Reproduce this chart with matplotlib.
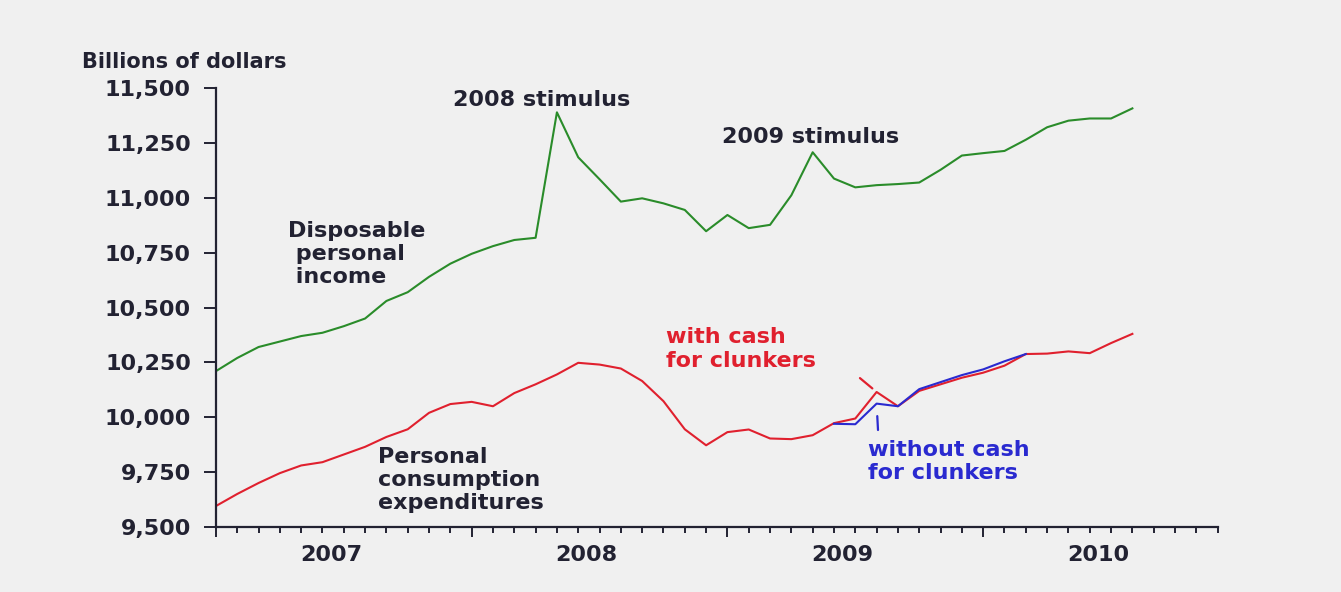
#!/usr/bin/env python3
import matplotlib

matplotlib.use("Agg")
import matplotlib.pyplot as plt
import numpy as np
from matplotlib.ticker import FuncFormatter, MultipleLocator

# Monthly data, Jan 2007 .. Aug 2010 (billions of dollars)
YEARS = ["2007", "2008", "2009", "2010"]

DISPOSABLE_INCOME = [
    10210, 10270, 10320, 10345, 10370, 10385, 10415, 10450, 10530, 10570, 10640, 10700,
    10745, 10780, 10808, 10818, 11390, 11185, 11085, 10983, 10998, 10975, 10945, 10848,
    10922, 10862, 10877, 11012, 11208, 11088, 11048, 11058, 11063, 11070, 11128, 11193,
    11204, 11214, 11265, 11322, 11352, 11362, 11362, 11408,
]

PCE_WITH_CFC = [
    9595, 9650, 9700, 9745, 9780, 9795, 9830, 9865, 9910, 9945, 10020, 10060,
    10070, 10050, 10110, 10150, 10195, 10248, 10240, 10222, 10165, 10073, 9945, 9872,
    9932, 9944, 9903, 9900, 9918, 9973, 9994, 10115, 10050, 10120, 10150, 10180,
    10203, 10235, 10288, 10290, 10300, 10292, 10338, 10380,
]

# "without cash for clunkers" runs Jun 2009 .. Mar 2010
PCE_WITHOUT_CFC = [9970, 9968, 10062, 10050, 10128, 10160, 10192, 10218, 10255, 10288]
WITHOUT_START = 29

BG = "#f0f0f0"
INK = "#222232"
GREEN = "#2a8c2a"
RED = "#e0202e"
BLUE = "#2a2ad0"


def set_plot_style():
    plt.rcParams.update(
        {
            "font.family": ["DejaVu Sans"],
            "font.size": 16,
            "font.weight": "bold",
            "text.color": INK,
            "axes.edgecolor": INK,
            "xtick.color": INK,
            "ytick.color": INK,
            "figure.dpi": 100,
        }
    )


def plot(out_path):
    set_plot_style()

    months = np.arange(len(DISPOSABLE_INCOME))
    months_wo = np.arange(WITHOUT_START, WITHOUT_START + len(PCE_WITHOUT_CFC))

    fig = plt.figure(figsize=(13.41, 5.92), facecolor=BG)
    ax = fig.add_axes([0.161, 0.110, 0.747, 0.741], facecolor=BG)

    ax.plot(months, DISPOSABLE_INCOME, color=GREEN, lw=1.5)
    ax.plot(months, PCE_WITH_CFC, color=RED, lw=1.5)
    ax.plot(months_wo, PCE_WITHOUT_CFC, color=BLUE, lw=1.5)

    ax.set_xlim(0, 47)
    ax.set_ylim(9500, 11500)
    ax.yaxis.set_major_locator(MultipleLocator(250))
    ax.yaxis.set_major_formatter(FuncFormatter(lambda v, _: f"{v:,.0f}"))
    ax.xaxis.set_major_locator(MultipleLocator(12))
    ax.xaxis.set_minor_locator(MultipleLocator(1))
    ax.set_xticklabels([])

    for side in ("top", "right"):
        ax.spines[side].set_visible(False)
    for side in ("left", "bottom"):
        ax.spines[side].set_linewidth(1.6)

    ax.tick_params(axis="y", direction="out", length=9, width=1.4, pad=9, labelsize=16)
    ax.tick_params(axis="x", which="major", direction="out", length=7, width=1.4)
    ax.tick_params(axis="x", which="minor", direction="out", length=4, width=1.4)

    for i, year in enumerate(YEARS):
        ax.text(12 * i + 5.4, -0.064, year, transform=ax.get_xaxis_transform(),
                ha="center", va="center", fontsize=16)

    fig.text(0.061, 0.895, "Billions of dollars", ha="left", va="center", fontsize=15)

    # annotations
    ax.text(15.3, 11445, "2008 stimulus", ha="center", va="center", fontsize=16)
    ax.text(27.9, 11277, "2009 stimulus", ha="center", va="center", fontsize=16)
    ax.text(3.4, 10745, "Disposable\n personal\n income", ha="left", va="center",
            fontsize=16, linespacing=1.2)
    ax.text(7.6, 9714, "Personal\nconsumption\nexpenditures", ha="left", va="center",
            fontsize=16, linespacing=1.2)
    ax.text(21.1, 10311, "with cash\nfor clunkers", ha="left", va="center",
            fontsize=16, linespacing=1.2, color=RED)
    ax.text(30.6, 9798, "without cash\nfor clunkers", ha="left", va="center",
            fontsize=16, linespacing=1.2, color=BLUE)

    cfc = 31
    ax.annotate("", xy=(cfc, PCE_WITH_CFC[cfc]), xytext=(-12, 10),
                textcoords="offset points",
                arrowprops=dict(arrowstyle="-", color=RED, lw=1.6, shrinkA=0, shrinkB=4))
    ax.annotate("", xy=(cfc, PCE_WITHOUT_CFC[cfc - WITHOUT_START]), xytext=(1, -19),
                textcoords="offset points",
                arrowprops=dict(arrowstyle="-", color=BLUE, lw=1.6, shrinkA=0, shrinkB=9))

    fig.savefig(out_path, dpi=100, facecolor=BG)
    plt.close(fig)


def main():
    plot("out.png")
    print("Wrote plot to out.png")


if __name__ == "__main__":
    main()
